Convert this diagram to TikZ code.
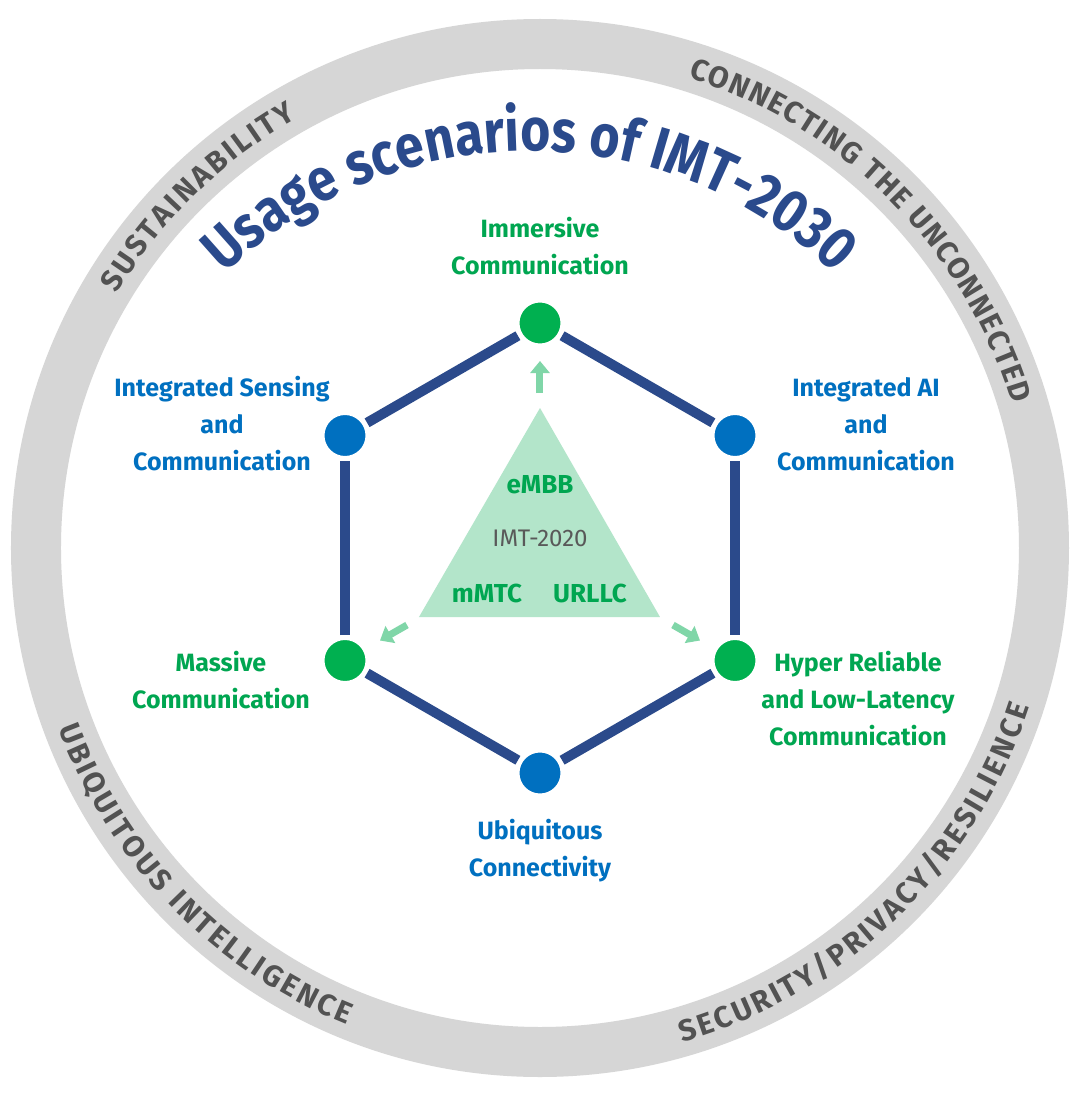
\documentclass[tikz,border=0pt]{standalone}
\usepackage{fontspec}
\setmainfont{Fira Sans}
\newfontfamily\narrowfam{Fira Sans}[FakeStretch=0.86]
\usetikzlibrary{decorations.text,arrows.meta}
\definecolor{navy}{RGB}{43,74,139}
\definecolor{titleblue}{RGB}{42,74,140}
\definecolor{tgreen}{RGB}{0,166,81}
\definecolor{ngreen}{RGB}{0,176,80}
\definecolor{tblue}{RGB}{0,112,192}
\definecolor{nblue}{RGB}{0,112,192}
\definecolor{trifill}{RGB}{179,229,202}
\definecolor{arrowgreen}{RGB}{128,214,168}
\definecolor{ringgray}{RGB}{214,214,214}
\definecolor{ringtext}{RGB}{82,82,82}
\definecolor{imtgray}{RGB}{89,89,89}
\newcommand{\ringfont}{\fontsize{30}{30}\selectfont\bfseries}
\newcommand{\titlefont}{\narrowfam\fontsize{60}{62}\selectfont\bfseries}
\tikzset{
  dot/.style={circle, minimum size=44pt, inner sep=0pt, draw=white, line width=3pt},
  gdot/.style={dot, fill=ngreen},
  bdot/.style={dot, fill=nblue},
  hexedge/.style={draw=navy, line width=10pt, shorten <=2pt, shorten >=2pt},
  lbl/.style={align=center, inner sep=0pt, font=\fontsize{25}{37}\selectfont\bfseries},
  trilbl/.style={inner sep=0pt, font=\fontsize{26}{30}\selectfont\bfseries, text=tgreen},
  garrow/.style={draw=arrowgreen, line width=7pt, -{Triangle[length=12pt,width=19pt]}},
  ringtxt/.style={decorate, decoration={text along path, text color=ringtext, text align=fit to path, raise=-10.5pt}}
}
\begin{document}
\begin{tikzpicture}[x=1pt,y=1pt]
\useasboundingbox (-540,-548) rectangle (540,548);
\fill[white] (-540,-548) rectangle (540,548);
% outer ring
\draw[ringgray, line width=50pt] (0,0) circle (504);
% ring texts
\path[ringtxt, decoration={text={|\ringfont|SUSTAINABILITY}}] (149:504) arc (149:119.5:504);
\path[ringtxt, decoration={text={|\ringfont|CONNECTING THE UNCONNECTED}}] (72.5:504) arc (72.5:17:504);
\path[ringtxt, decoration={text={|\ringfont|UBIQUITOUS INTELLIGENCE}}] (200.5:504) arc (200.5:248:504);
\path[ringtxt, decoration={text={|\ringfont|SECURITY/PRIVACY/RESILIENCE}}] (286:504) arc (286:342:504);
% title
\path[decorate, decoration={text along path, text={|\titlefont|Usage scenarios of IMT-2030}, text color=titleblue, text align=center}] (-10,-44) ++(140:441) arc (140:40:441);
% IMT-2020 triangle
\fill[trifill] (0,140) -- (-121,-69) -- (120,-69) -- cycle;
\node[trilbl] (embb) at (0,63) {eMBB};
\node[inner sep=0pt, font=\fontsize{24}{28}\selectfont, text=imtgray] (imt) at (0,10) {IMT-2020};
\node[trilbl] (mmtc) at (-53,-45) {mMTC};
\node[trilbl] (urllc) at (50,-45) {URLLC};
% arrows
\coordinate (a1s) at (0,155);
\coordinate (a1e) at (0,187);
\coordinate (a2s) at (-133,-77);
\coordinate (a2e) at (-160,-92.5);
\coordinate (a3s) at (133,-77);
\coordinate (a3e) at (160,-92.5);
\draw[garrow] (a1s) -- (a1e);
\draw[garrow] (a2s) -- (a2e);
\draw[garrow] (a3s) -- (a3e);
% hexagon nodes
\node[gdot] (top) at (0,225) {};
\node[bdot] (ul) at (-195,112.5) {};
\node[bdot] (ur) at (195,112.5) {};
\node[gdot] (ll) at (-195,-112.5) {};
\node[gdot] (lr) at (195,-112.5) {};
\node[bdot] (bot) at (0,-225) {};
\draw[hexedge] (top) -- (ur);
\draw[hexedge] (ur) -- (lr);
\draw[hexedge] (lr) -- (bot);
\draw[hexedge] (bot) -- (ll);
\draw[hexedge] (ll) -- (ul);
\draw[hexedge] (ul) -- (top);
% labels
\node[lbl, text=tgreen] (limm) at (0,301.5) {Immersive\\Communication};
\node[lbl, text=tblue] (lisac) at (-318,124) {Integrated Sensing\\and\\Communication};
\node[lbl, text=tblue] (lai) at (326,124) {Integrated AI\\and\\Communication};
\node[lbl, text=tgreen] (lmas) at (-319,-132) {Massive\\Communication};
\node[lbl, text=tgreen] (lhrl) at (318,-151) {Hyper Reliable\\and Low-Latency\\Communication};
\node[lbl, text=tblue] (lubi) at (0,-302.5) {Ubiquitous\\Connectivity};
\end{tikzpicture}
\end{document}
